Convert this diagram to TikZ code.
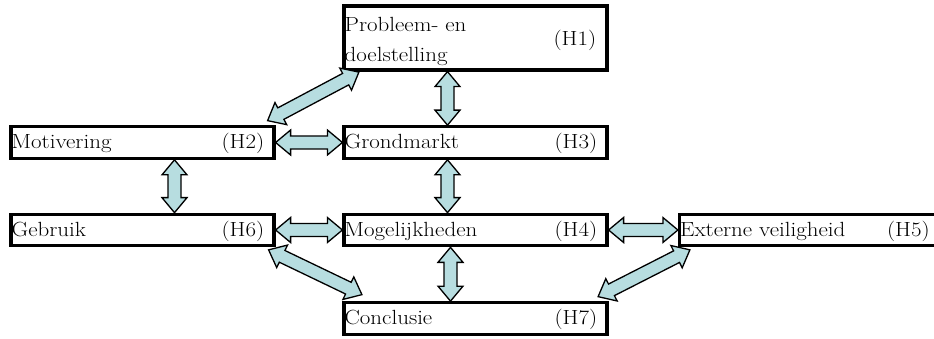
\documentclass[tikz,border=0pt]{standalone}
\usetikzlibrary{calc}
\definecolor{arrowfill}{RGB}{183,221,224}
\def\arrHL{15pt}
\def\arrHW{12.5pt}
\def\arrSW{6.5pt}
\newcommand\wtxt[1]{\scalebox{1.12}[1]{#1}}
\newcommand\dblarr[2]{%
 \draw[fatarrow] (#1)
 -- ($(#1)!\arrHL!(#2)!\arrHW!90:(#2)$)
 -- ($(#1)!\arrHL!(#2)!\arrSW!90:(#2)$)
 -- ($(#2)!\arrHL!(#1)!\arrSW!-90:(#1)$)
 -- ($(#2)!\arrHL!(#1)!\arrHW!-90:(#1)$)
 -- (#2)
 -- ($(#2)!\arrHL!(#1)!\arrHW!90:(#1)$)
 -- ($(#2)!\arrHL!(#1)!\arrSW!90:(#1)$)
 -- ($(#1)!\arrHL!(#2)!\arrSW!-90:(#2)$)
 -- ($(#1)!\arrHL!(#2)!\arrHW!-90:(#2)$)
 -- cycle;}
\begin{document}
\begin{tikzpicture}[x=1pt,y=-1pt,
  box/.style={draw=black, line width=3.2pt, rectangle, inner sep=0pt, minimum width=263pt, minimum height=31.5pt, fill=white},
  fatarrow/.style={draw=black, fill=arrowfill, line width=1.3pt, line join=miter},
  lbl/.style={anchor=base west, inner sep=0pt, font=\fontsize{20.5}{30}\selectfont}]
\useasboundingbox (0,0) rectangle (934,339);
% boxes
\node[box, minimum height=64pt] (h1) at (475.5,38) {};
\node[box] (h2) at (142.5,142.5) {};
\node[box] (h3) at (475.5,142.5) {};
\node[box] (h6) at (142.5,230) {};
\node[box] (h4) at (475.5,230) {};
\node[box, minimum width=266pt] (h5) at (812.5,230) {};
\node[box] (h7) at (475.5,318.5) {};
% texts
\node[lbl] (t1a) at ($(h1.west)+(2,-6)$) {\wtxt{Probleem- en}};
\node[lbl] (t1b) at ($(h1.west)+(2,24)$) {\wtxt{doelstelling}};
\node[lbl] (n1) at ($(h1.west)+(211,8)$) {\wtxt{(H1)}};
\node[lbl] (t2) at ($(h2.west)+(2,6)$) {\wtxt{Motivering}};
\node[lbl] (n2) at ($(h2.west)+(212,6)$) {\wtxt{(H2)}};
\node[lbl] (t3) at ($(h3.west)+(2,6)$) {\wtxt{Grondmarkt}};
\node[lbl] (n3) at ($(h3.west)+(212,6)$) {\wtxt{(H3)}};
\node[lbl] (t4) at ($(h4.west)+(2,6.5)$) {\wtxt{Mogelijkheden}};
\node[lbl] (n4) at ($(h4.west)+(212,6.5)$) {\wtxt{(H4)}};
\node[lbl] (t5) at ($(h5.west)+(2,6.5)$) {\wtxt{Externe veiligheid}};
\node[lbl] (n5) at ($(h5.west)+(209,6.5)$) {\wtxt{(H5)}};
\node[lbl] (t6) at ($(h6.west)+(2,6.5)$) {\wtxt{Gebruik}};
\node[lbl] (n6) at ($(h6.west)+(212,6.5)$) {\wtxt{(H6)}};
\node[lbl] (t7) at ($(h7.west)+(2,6)$) {\wtxt{Conclusie}};
\node[lbl] (n7) at ($(h7.west)+(212,6)$) {\wtxt{(H7)}};
% arrow end points
\coordinate (a1s) at ($(h2.north east)+(-8,-4.5)$);
\coordinate (a1e) at ($(h1.south west)+(16.5,0.5)$);
\coordinate (a2s) at ($(h1.south)+(-28,0)$);
\coordinate (a2e) at ($(h3.north)+(-28,0)$);
\coordinate (a4s) at ($(h3.south)+(-28,0)$);
\coordinate (a4e) at ($(h4.north)+(-28,0)$);
\coordinate (a9s) at ($(h4.south)+(-25,0)$);
\coordinate (a9e) at ($(h7.north)+(-25,0)$);
\coordinate (a5s) at ($(h2.south)+(32,0)$);
\coordinate (a5e) at ($(h6.north)+(32,0)$);
\coordinate (a8s) at ($(h6.south east)+(-7,2.5)$);
\coordinate (a8e) at ($(h7.north west)+(19.5,-6.5)$);
\coordinate (a10s) at ($(h5.south west)+(12,2.5)$);
\coordinate (a10e) at ($(h7.north east)+(-10.5,-4.5)$);
% arrows
\dblarr{a1s}{a1e}
\dblarr{a2s}{a2e}
\dblarr{h2.east}{h3.west}
\dblarr{a4s}{a4e}
\dblarr{a5s}{a5e}
\dblarr{h6.east}{h4.west}
\dblarr{h4.east}{h5.west}
\dblarr{a8s}{a8e}
\dblarr{a9s}{a9e}
\dblarr{a10s}{a10e}
\end{tikzpicture}
\end{document}
